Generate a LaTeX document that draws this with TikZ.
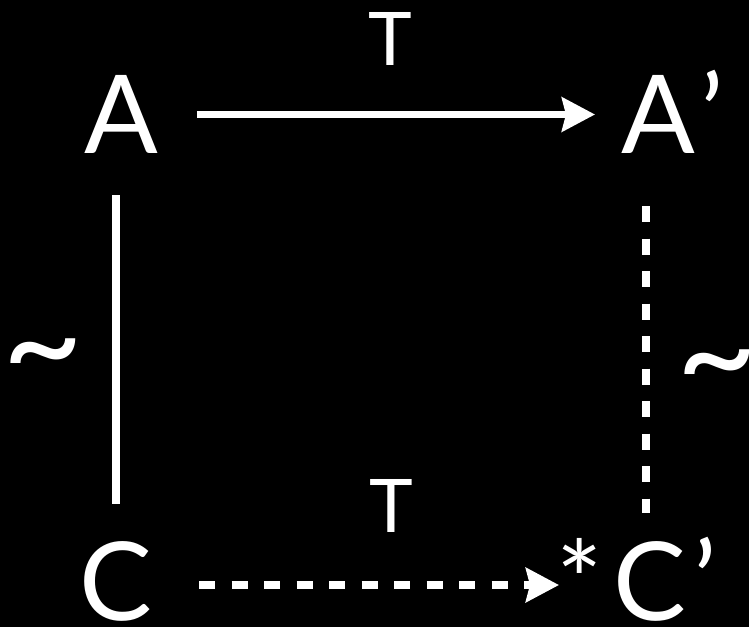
\documentclass[tikz,border=0pt]{standalone}
\usepackage{fontspec}
\setmainfont{Lato}
\usetikzlibrary{arrows.meta}
\tikzset{
  big/.style={text=white, inner sep=0pt, outer sep=0pt, font=\fontsize{109}{109}\selectfont, text height=78pt, text depth=0pt},
  mid/.style={text=white, inner sep=0pt, outer sep=0pt, font=\fontsize{74}{74}\selectfont},
  tld/.style={text=white, inner sep=0pt, outer sep=0pt, font=\fontsize{140}{140}\selectfont},
  solidline/.style={draw=white, line width=7.5pt},
  dashline/.style={draw=white, line width=7.5pt, dash pattern=on 16pt off 16.5pt},
  tip/.style={-{Stealth[length=33pt 0 0, width=34pt 0 0, inset=4pt 0 0]}}
}
\begin{document}
\begin{tikzpicture}[x=1pt,y=-1pt]
\fill[black] (0,0) rectangle (749,627);
\useasboundingbox (0,0) rectangle (749,627);
\node[big] (A) at (121,114.5) {A};
\node[big, anchor=base west] (A2) at (621,153.5) {A\kern6pt’};
\node[big] (C) at (116,581) {C};
\node[big, anchor=base west] (C2) at (613,620) {C\kern8pt’};
\node[big, anchor=base] (star) at (580,620) {*};
\node[mid, anchor=base] (T1) at (390,65) {T};
\node[mid, anchor=base] (T2) at (391,532) {T};
\node[tld, anchor=base] (L) at (43.5,392) {\textasciitilde};
\node[tld, anchor=base] (R) at (717,403) {\textasciitilde};
\draw[solidline, tip, shorten <=39pt, shorten >=26pt] (A.east) -- (A.east -| A2.west);
\draw[solidline, shorten <=41.5pt, shorten >=38pt] (A.south -| C.center) -- (C.north);
\draw[dashline, shorten <=52.5pt, shorten >=29pt] ([xshift=25pt]A2.south west) -- ([xshift=33pt]C2.north west);
\draw[dashline, tip, shorten <=83pt, shorten >=21pt] ([yshift=-4pt]C.center) -- ([yshift=-4pt]C.center -| star.center);
\end{tikzpicture}
\end{document}
